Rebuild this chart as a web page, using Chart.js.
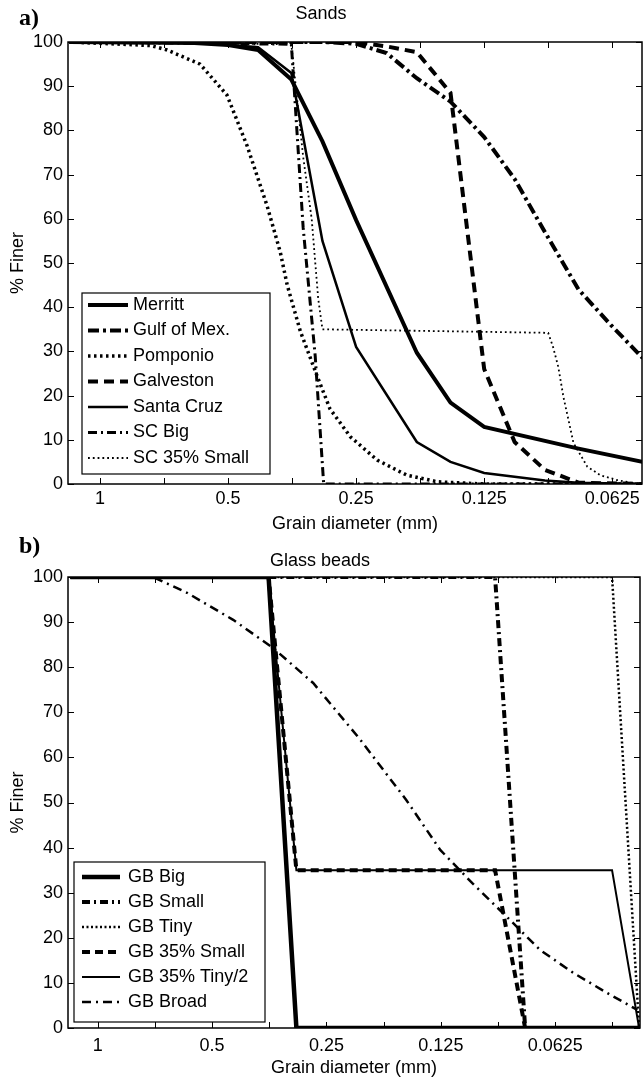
<!DOCTYPE html>
<html>
<head>
<meta charset="utf-8">
<script src="https://cdn.jsdelivr.net/npm/chart.js@4.4.1/dist/chart.umd.min.js"></script>
<style>
  html, body { margin: 0; padding: 0; background: #fff; }
  #wrap { position: relative; width: 643px; height: 1082px; }
  canvas { position: absolute; left: 0; }
  .tag { position: absolute; left: 19px; font: bold 24px "Liberation Serif", serif; color: #000; }
</style>
</head>
<body>
<div id="wrap">
  <canvas id="sands" width="643" height="540" style="top:0"></canvas>
  <canvas id="beads" width="643" height="542" style="top:540px"></canvas>
  <div class="tag" style="top:4px">a)</div>
  <div class="tag" style="top:532px">b)</div>
</div>
<script>
// Ejes: diámetro en mm (escala log, invertida)
const xTickVals = [1, 0.7071, 0.5, 0.3536, 0.25, 0.1768, 0.125, 0.0884, 0.0625, 0.0442];
const xTickLabels = ["1", "", "0.5", "", "0.25", "", "0.125", "", "0.0625", ""];

// a) Arenas: diámetro (mm) y % más fino
const merrittD = [1.18, 0.6, 0.5, 0.425, 0.355, 0.3, 0.25, 0.18, 0.15, 0.125, 0.075, 0.053];
const merrittP = [100, 99.8, 99.3, 98.2, 91.5, 77.5, 59.7, 29.7, 18.4, 12.9, 8, 5];
const gulfD = [1.18, 0.3, 0.25, 0.212, 0.18, 0.15, 0.125, 0.106, 0.09, 0.075, 0.063, 0.053];
const gulfP = [100, 100, 99.6, 97.5, 91.8, 86.5, 78.5, 69, 57, 44, 36, 28.5];
const pompD = [1.18, 1.0, 0.76, 0.696, 0.582, 0.503, 0.451, 0.405, 0.377, 0.363, 0.338, 0.309, 0.288, 0.258, 0.223, 0.19, 0.161, 0.125, 0.053];
const pompP = [100, 99.7, 99.2, 98.2, 95, 88, 76.5, 63, 52.5, 45, 34.5, 24.5, 17, 10.7, 5.4, 2, 0.5, 0, 0];
const galvD = [1.18, 0.25, 0.212, 0.18, 0.15, 0.125, 0.106, 0.09, 0.075, 0.053];
const galvP = [100, 100, 99, 97.7, 88.5, 26, 9.5, 3.2, 0.3, 0];
const scruzD = [1.18, 0.6, 0.5, 0.425, 0.355, 0.3, 0.25, 0.18, 0.15, 0.125, 0.09, 0.075, 0.053];
const scruzP = [100, 99.8, 99.4, 98.8, 93, 55, 31, 9.5, 5, 2.5, 0.8, 0.3, 0];
const scBigD = [1.18, 0.355, 0.333, 0.312, 0.298, 0.053];
const scBigP = [100, 99.5, 58, 29, 0, 0];
const sc35D = [1.18, 0.355, 0.333, 0.318, 0.307, 0.3, 0.0884, 0.0861, 0.0837, 0.0814, 0.0792, 0.0771, 0.0715, 0.0667, 0.0609, 0.0558, 0.053];
const sc35P = [100, 99.5, 74, 60, 42, 35, 34.2, 31, 26.5, 19.7, 14.5, 9.3, 3.9, 2, 0.9, 0.2, 0];

// b) Esferas de vidrio
const gbBigD = [1.18, 0.355, 0.3, 0.0376];
const gbBigP = [100, 100, 0, 0];
const gbSmallD = [1.18, 0.09, 0.075, 0.0376];
const gbSmallP = [100, 100, 0, 0];
const gbTinyD = [1.18, 0.0443, 0.0376];
const gbTinyP = [100, 100, 0];
const gb35SmallD = [1.18, 0.355, 0.3, 0.09, 0.075, 0.0376];
const gb35SmallP = [100, 100, 35, 35, 0, 0];
const gb35TinyD = [1.18, 0.355, 0.3, 0.0443, 0.0376];
const gb35TinyP = [100, 100, 35, 35, 0];
const gbBroadD = [1.18, 0.715, 0.582, 0.44, 0.346, 0.271, 0.204, 0.154, 0.1255, 0.103, 0.0837, 0.0685, 0.056, 0.0457, 0.038];
const gbBroadP = [100, 100, 96.5, 90.5, 84.3, 76.5, 64, 50.5, 39.5, 32, 24.6, 17.3, 12.2, 7.8, 4];

Chart.defaults.font.family = '"Liberation Sans", Arial, sans-serif';
Chart.defaults.font.size = 18;
Chart.defaults.color = "#000";

// convierte dos arreglos en puntos {x, y}
function pts(d, p) {
  return d.map((v, i) => ({ x: v, y: p[i] }));
}

function serie(label, d, p, width, dash) {
  return {
    label,
    data: pts(d, p),
    borderColor: "#000",
    borderWidth: width,
    borderDash: dash,
    pointRadius: 0,
    tension: 0,
    fill: false,
  };
}

// marcas hacia adentro en los cuatro lados + marco
const boxTicks = {
  id: "boxTicks",
  afterDatasetsDraw(chart) {
    const { ctx, chartArea: a, scales } = chart;
    const len = 6;
    ctx.save();
    ctx.strokeStyle = "#000";
    ctx.lineWidth = 1;
    ctx.beginPath();
    scales.x.ticks.forEach((t) => {
      const px = Math.round(scales.x.getPixelForValue(t.value)) + 0.5;
      ctx.moveTo(px, a.bottom); ctx.lineTo(px, a.bottom - len);
      ctx.moveTo(px, a.top); ctx.lineTo(px, a.top + len);
    });
    scales.y.ticks.forEach((t) => {
      const py = Math.round(scales.y.getPixelForValue(t.value)) + 0.5;
      ctx.moveTo(a.left, py); ctx.lineTo(a.left + len, py);
      ctx.moveTo(a.right, py); ctx.lineTo(a.right - len, py);
    });
    ctx.stroke();
    ctx.lineWidth = 1.5;
    ctx.strokeRect(a.left, a.top, a.right - a.left, a.bottom - a.top);
    ctx.restore();
  },
};

// leyenda con marco dentro del área del gráfico
const boxLegend = {
  id: "boxLegend",
  afterDraw(chart, args, o) {
    const { ctx } = chart;
    ctx.save();
    ctx.fillStyle = "#fff";
    ctx.fillRect(o.x, o.y, o.w, o.h);
    ctx.strokeStyle = "#000";
    ctx.lineWidth = 1.2;
    ctx.strokeRect(o.x, o.y, o.w, o.h);
    ctx.font = '18px "Liberation Sans", Arial, sans-serif';
    ctx.textBaseline = "middle";
    ctx.fillStyle = "#000";
    chart.data.datasets.forEach((ds, i) => {
      const yy = o.first + i * o.gap;
      ctx.beginPath();
      ctx.setLineDash(ds.borderDash || []);
      ctx.lineWidth = ds.borderWidth;
      ctx.moveTo(o.x + o.l0, yy);
      ctx.lineTo(o.x + o.l1, yy);
      ctx.stroke();
      ctx.setLineDash([]);
      ctx.fillText(ds.label, o.x + o.tx, yy);
    });
    ctx.restore();
  },
};

function opciones(cfg) {
  return {
    responsive: false,
    animation: false,
    layout: { padding: { left: 0, right: cfg.padRight, top: 0, bottom: 0 } },
    plugins: {
      legend: { display: false },
      tooltip: { enabled: false },
      title: {
        display: true,
        text: cfg.title,
        font: { size: 18, weight: "normal" },
        padding: cfg.titlePad,
      },
      boxLegend: cfg.legend,
    },
    scales: {
      x: {
        type: "logarithmic",
        reverse: true,
        min: cfg.xMin,
        max: cfg.xMax,
        grid: { display: false, drawTicks: false },
        border: { display: false },
        afterBuildTicks: (s) => {
          s.ticks = xTickVals
            .filter((v) => v >= s.min && v <= s.max)
            .map((v) => ({ value: v }));
        },
        afterFit: (s) => {
          s.height = cfg.xHeight;
          s.paddingLeft = 0;
          s.paddingRight = 0;
        },
        ticks: {
          autoSkip: false,
          maxRotation: 0,
          padding: cfg.xTickPad,
          callback: (v) => {
            const i = xTickVals.indexOf(v);
            return i >= 0 ? xTickLabels[i] : "";
          },
        },
        title: {
          display: true,
          text: "Grain diameter (mm)",
          font: { size: 18 },
          padding: { top: 0, bottom: cfg.xTitlePad },
        },
      },
      y: {
        min: 0,
        max: 100,
        grid: { display: false, drawTicks: false },
        border: { display: false },
        afterFit: (s) => {
          s.width = 68;
          s.paddingTop = 0;
          s.paddingBottom = 0;
        },
        ticks: { stepSize: 10, padding: 5 },
        title: {
          display: true,
          text: "% Finer",
          font: { size: 18 },
          padding: { top: 7, bottom: 0 },
        },
      },
    },
  };
}

new Chart(document.getElementById("sands"), {
  type: "line",
  data: {
    datasets: [
      serie("Merritt", merrittD, merrittP, 4, []),
      serie("Gulf of Mex.", gulfD, gulfP, 4, [11, 4, 3, 4]),
      serie("Pomponio", pompD, pompP, 3.5, [2.5, 3.5]),
      serie("Galveston", galvD, galvP, 4, [10, 6]),
      serie("Santa Cruz", scruzD, scruzP, 2.5, []),
      serie("SC Big", scBigD, scBigP, 3, [9, 4, 2, 4]),
      serie("SC 35% Small", sc35D, sc35P, 1.8, [1.8, 3]),
    ],
  },
  options: opciones({
    title: "Sands",
    titlePad: { top: 3, bottom: 17.4 },
    padRight: 1,
    xMin: 0.0532,
    xMax: 1.1892,
    xHeight: 56,
    xTickPad: 4,
    xTitlePad: 5,
    legend: { x: 82, y: 293, w: 188, h: 181, first: 305, gap: 25.5, l0: 6, l1: 46, tx: 51 },
  }),
  plugins: [boxTicks, boxLegend],
});

new Chart(document.getElementById("beads"), {
  type: "line",
  data: {
    datasets: [
      serie("GB Big", gbBigD, gbBigP, 4.5, []),
      serie("GB Small", gbSmallD, gbSmallP, 4, [8, 4, 2, 4]),
      serie("GB Tiny", gbTinyD, gbTinyP, 2.5, [2, 2.5]),
      serie("GB 35% Small", gb35SmallD, gb35SmallP, 4, [8, 5]),
      serie("GB 35% Tiny/2", gb35TinyD, gb35TinyP, 2, []),
      serie("GB Broad", gbBroadD, gbBroadP, 2.5, [9, 5, 2, 5]),
    ],
  },
  options: opciones({
    title: "Glass beads",
    titlePad: { top: 10, bottom: 5.4 },
    padRight: 3,
    xMin: 0.0374,
    xMax: 1.1972,
    xHeight: 54,
    xTickPad: 7,
    xTitlePad: 3,
    legend: { x: 74, y: 322, w: 191, h: 160, first: 337, gap: 25, l0: 8, l1: 46, tx: 54 },
  }),
  plugins: [boxTicks, boxLegend],
});
</script>
</body>
</html>
